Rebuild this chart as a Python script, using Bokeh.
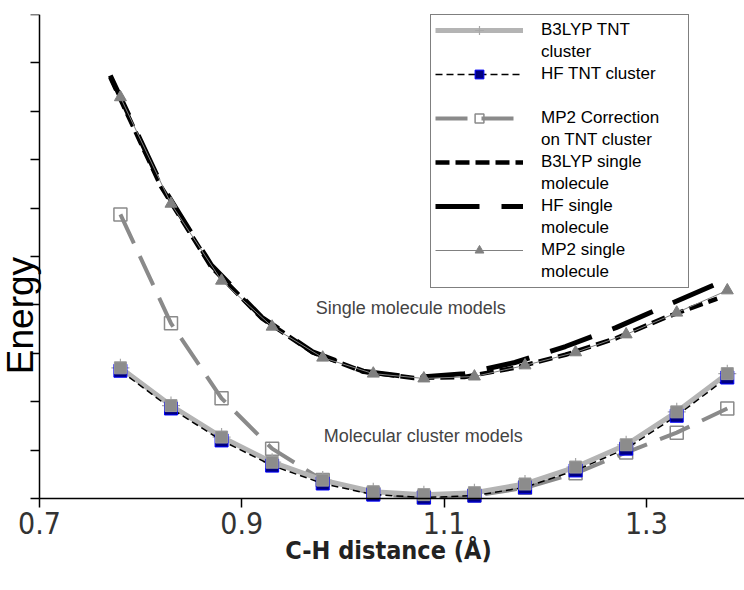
from math import pi

from bokeh.embed import file_html
from bokeh.models import FixedTicker, Label, Legend, LegendItem, Range1d
from bokeh.plotting import figure
from bokeh.resources import INLINE

# C-H bond lengths (Å)
x_cluster = [0.78, 0.83, 0.88, 0.93, 0.98, 1.03, 1.08, 1.13, 1.18, 1.23, 1.28, 1.33, 1.38]
x_single = [0.77, 0.82, 0.87, 0.92, 0.97, 1.02, 1.07, 1.12, 1.17, 1.22, 1.27, 1.32, 1.37]

# relative energies (arbitrary units)
b3lyp_cluster = [2.70, 1.92, 1.27, 0.75, 0.38, 0.14, 0.08, 0.12, 0.30, 0.65, 1.11, 1.79, 2.58]
hf_cluster = [2.64, 1.86, 1.20, 0.68, 0.31, 0.08, 0.02, 0.06, 0.23, 0.58, 1.03, 1.71, 2.50]
mp2_correction = [5.87, 3.62, 2.07, 1.03, 0.38, 0.10, 0.02, 0.06, 0.22, 0.52, 0.95, 1.36, 1.86]
b3lyp_single = [8.70, 6.45, 4.78, 3.72, 3.02, 2.62, 2.49, 2.51, 2.70, 2.97, 3.31, 3.75, 4.13]
hf_single = [8.74, 6.50, 4.82, 3.74, 3.03, 2.63, 2.50, 2.58, 2.81, 3.14, 3.53, 3.99, 4.44]
mp2_single = [8.29, 6.09, 4.50, 3.55, 2.91, 2.58, 2.48, 2.52, 2.75, 3.02, 3.39, 3.84, 4.30]

x_ticks = [0.7, 0.9, 1.1, 1.3]
y_ticks = list(range(0, 11))

X_MIN, X_MAX = 0.7, 1.397
Y_MIN, Y_MAX = 0, 10
PX_PER_X = 1011.5      # horizontal scale of the frame
PX_PER_Y = 48.4        # vertical scale of the frame
LEFT_PAD = 39          # room left of the energy axis for its ticks and title
BOTTOM_PAD = 92        # room below the distance axis for its labels and title

NARROW = "'Liberation Sans Narrow', 'DejaVu Sans Condensed', 'Liberation Sans', sans-serif"
SANS = "'Liberation Sans', Arial, sans-serif"

# the frame fills the canvas; both axes are pinned inside it
p = figure(
    width=744, height=590,
    x_range=Range1d(X_MIN - LEFT_PAD / PX_PER_X, X_MAX),
    y_range=Range1d(Y_MIN - BOTTOM_PAD / PX_PER_Y, Y_MAX),
    output_backend="svg", toolbar_location=None,
    min_border_left=0, min_border_right=0, min_border_top=14, min_border_bottom=0,
)
p.outline_line_color = None
p.xgrid.visible = False
p.ygrid.visible = False
p.background_fill_color = "white"
p.border_fill_color = "white"

# distance axis
p.xaxis.fixed_location = Y_MIN
p.xaxis.bounds = (X_MIN, X_MAX)
p.xaxis.ticker = FixedTicker(ticks=x_ticks)
p.xaxis.minor_tick_line_color = None
p.xaxis.major_tick_in = 0
p.xaxis.major_tick_out = 9
p.xaxis.axis_line_width = 1.5
p.xaxis.major_tick_line_width = 1.5
p.xaxis.major_label_text_font = NARROW
p.xaxis.major_label_text_font_size = "30px"
p.xaxis.major_label_text_color = "#333333"
p.xaxis.major_label_standoff = 4

# energy axis
p.yaxis.fixed_location = X_MIN
p.yaxis.bounds = (Y_MIN, Y_MAX)
p.yaxis.ticker = FixedTicker(ticks=y_ticks)
p.yaxis.minor_tick_line_color = None
p.yaxis.major_tick_in = 0
p.yaxis.major_tick_out = 9
p.yaxis.axis_line_width = 1.5
p.yaxis.major_tick_line_width = 1.5
p.yaxis.major_label_overrides = {t: "" for t in y_ticks}
p.yaxis.major_label_standoff = 0

# molecular cluster: MP2 correction (under the other cluster curves)
r_mp2c_line = p.line(x_cluster, mp2_correction, line_color="#8a8a8a", line_width=4,
                     line_dash="32 14")
r_mp2c_pts = p.scatter(x_cluster, mp2_correction, marker="square", size=13,
                       fill_color=None, line_color="#8a8a8a", line_width=1.5)

# single molecule curves
r_b3s = p.line(x_single, b3lyp_single, line_color="black", line_width=4.5, line_dash="14 6")
r_hfs = p.line(x_single, hf_single, line_color="black", line_width=5, line_dash="44 22")
r_mp2s_line = p.line(x_cluster, mp2_single, line_color="#808080", line_width=1)
r_mp2s_pts = p.scatter(x_cluster, mp2_single, marker="triangle", size=12,
                       fill_color="#808080", line_color="#808080")

# molecular cluster: B3LYP and HF
r_b3c_pts = p.scatter(x_cluster, b3lyp_cluster, marker="cross", size=18,
                      line_color="#a8a8a8", line_width=1.2)
r_b3c_line = p.line(x_cluster, b3lyp_cluster, line_color="#b4b4b4", line_width=5)
r_hfc_line = p.line(x_cluster, hf_cluster, line_color="black", line_width=1.5,
                    line_dash="7 4")
r_hfc_pts = p.scatter(x_cluster, hf_cluster, marker="square", size=13,
                      fill_color="#000080", line_color="#0000ff", line_width=1)
p.scatter(x_cluster, b3lyp_cluster, marker="square", size=12,
          fill_color="#8c8c8c", line_color="#9a9a9a", line_width=1)

# spacer renderer for wrapped legend lines
blank = p.line([], [], line_alpha=0)

items = [
    LegendItem(label="B3LYP TNT", renderers=[r_b3c_line, r_b3c_pts]),
    LegendItem(label="cluster", renderers=[blank]),
    LegendItem(label="HF TNT cluster", renderers=[r_hfc_line, r_hfc_pts]),
    LegendItem(label=" ", renderers=[blank]),
    LegendItem(label="MP2 Correction", renderers=[r_mp2c_line, r_mp2c_pts]),
    LegendItem(label="on TNT cluster", renderers=[blank]),
    LegendItem(label="B3LYP single", renderers=[r_b3s]),
    LegendItem(label="molecule", renderers=[blank]),
    LegendItem(label="HF single", renderers=[r_hfs]),
    LegendItem(label="molecule", renderers=[blank]),
    LegendItem(label="MP2 single", renderers=[r_mp2s_line, r_mp2s_pts]),
    LegendItem(label="molecule", renderers=[blank]),
]
legend = Legend(
    items=items, location=(430, 302),
    padding=4, spacing=0, label_height=22, glyph_height=22, glyph_width=88,
    label_standoff=18, label_width=143,
    label_text_font=SANS, label_text_font_size="17px", label_text_color="black",
    border_line_color="black", border_line_width=1.5, background_fill_alpha=1,
)
p.add_layout(legend, "center")

# annotations
p.add_layout(Label(x=0.973, y=3.93, text="Single molecule models", text_font=SANS,
                   text_font_size="18px", text_baseline="middle"))
p.add_layout(Label(x=0.981, y=1.30, text="Molecular cluster models", text_font=SANS,
                   text_font_size="18px", text_baseline="middle"))

# axis titles
p.add_layout(Label(x=X_MIN, y=3.78, x_offset=-19, text="Energy", angle=pi / 2,
                   text_align="center", text_baseline="middle", text_font=SANS,
                   text_font_size="37px", text_color="black"))
p.add_layout(Label(x=1.045, y=Y_MIN, y_offset=-52, text="C-H distance (Å)",
                   text_align="center", text_baseline="middle", text_font=NARROW,
                   text_font_style="bold", text_font_size="25px", text_color="#222222"))

open("out.html", "w").write(file_html(p, INLINE))
